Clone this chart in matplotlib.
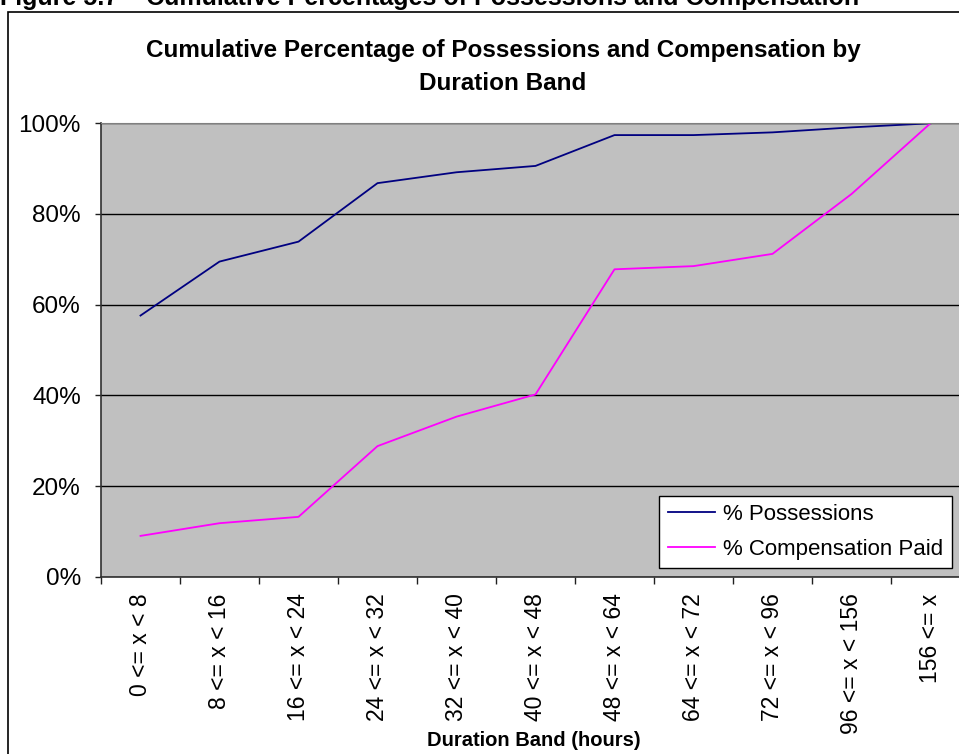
import matplotlib
matplotlib.use("Agg")
from matplotlib import pyplot as plt
from matplotlib.patches import Rectangle
from matplotlib.ticker import FixedLocator, PercentFormatter

plt.rcParams['font.family'] = ['Liberation Sans', 'DejaVu Sans']

# duration bands (hours) and cumulative shares, in percent
bands = ['0 <= x < 8', '8 <= x < 16', '16 <= x < 24', '24 <= x < 32',
         '32 <= x < 40', '40 <= x < 48', '48 <= x < 64', '64 <= x < 72',
         '72 <= x < 96', '96 <= x < 156', '156 <= x']
possessions = [57.6, 69.5, 73.9, 86.8, 89.2, 90.6, 97.4, 97.4, 98.0, 99.1, 100.0]
compensation = [9.0, 11.8, 13.2, 28.8, 35.3, 40.2, 67.8, 68.5, 71.2, 84.4, 100.0]

W, H = 959, 754
fig = plt.figure(figsize=(W / 100, H / 100), dpi=100)

# chart frame (runs past the right and bottom edges of the page)
fig.patches.append(Rectangle((8 / W, -0.1), 1.2, 1 - 12 / H + 0.1,
                             transform=fig.transFigure, fill=False,
                             edgecolor='black', linewidth=1.2))

# caption from the report, mostly cut off above the page
fig.text(0.0, 1 - 5 / H, 'Figure 5.7 \u2013 Cumulative Percentages of Possessions and Compensation',
         fontsize=18, fontweight='bold', ha='left', va='baseline')

ax = fig.add_axes([101 / W, 177.3 / H, 869 / W, 453.4 / H])
ax.set_facecolor('#C0C0C0')

x = list(range(len(bands)))
ax.plot(x, possessions, color='#000080', lw=1.3, label='% Possessions')
ax.plot(x, compensation, color='#FF00FF', lw=1.3, label='% Compensation Paid')

ax.set_xlim(-0.5, len(bands) - 0.5)
ax.set_ylim(0, 100)
ax.yaxis.set_major_locator(FixedLocator([0, 20, 40, 60, 80, 100]))
ax.yaxis.set_major_formatter(PercentFormatter(decimals=0))
ax.grid(axis='y', color='black', lw=1.0)
ax.set_axisbelow(True)

ax.set_xticks(x)
ax.set_xticklabels(bands, rotation=90, fontsize=16.5)
ax.set_xticks([i - 0.5 for i in range(len(bands) + 1)], minor=True)
ax.tick_params(axis='x', which='major', length=0, pad=12)
ax.tick_params(axis='x', which='minor', length=5, width=1, color='#202020')
ax.tick_params(axis='y', labelsize=17.5, length=4.5, width=1, color='#202020', pad=10)

for side in ['top', 'right']:
    ax.spines[side].set_color('#808080')
for side in ['left', 'bottom']:
    ax.spines[side].set_color('#303030')
    ax.spines[side].set_linewidth(1.2)

leg = ax.legend(loc='lower right', bbox_to_anchor=(952 / W, 1 - 568 / H),
                bbox_transform=fig.transFigure, fontsize=16, frameon=True,
                fancybox=False, edgecolor='black', framealpha=1,
                handlelength=2.1, handletextpad=0.4, labelspacing=0.6,
                borderpad=0.38, borderaxespad=0)
leg.get_frame().set_linewidth(1.0)

fig.text(503 / W, 1 - 67 / H,
         'Cumulative Percentage of Possessions and Compensation by\nDuration Band',
         fontsize=17.5, fontweight='bold', ha='center', va='center', linespacing=1.55)

fig.text(534 / W, 14 / H, 'Duration Band (hours)', fontsize=14.5, fontweight='bold',
         ha='center', va='center')

fig.savefig('out.png', dpi=100)
